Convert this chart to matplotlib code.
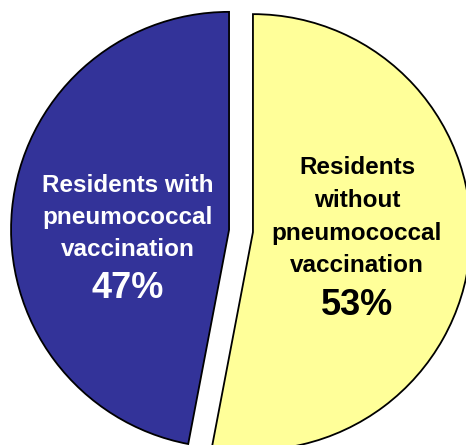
import matplotlib
matplotlib.use("Agg")
import matplotlib.pyplot as plt

categories = ["Residents without pneumococcal vaccination",
              "Residents with pneumococcal vaccination"]
values = [53, 47]
label_lines = [["Residents", "without", "pneumococcal", "vaccination"],
               ["Residents with", "pneumococcal", "vaccination"]]
pct_labels = ["53%", "47%"]
colors = ["#FFFF99", "#333399"]
text_colors = ["black", "white"]

W, H = 466, 445
fig = plt.figure(figsize=(W / 100, H / 100), dpi=100)
ax = fig.add_axes([0, 0, 1, 1])

# explode is in data units (pixels here)
ax.pie(values, colors=colors, startangle=90, counterclock=False,
       explode=[12, 12], radius=218, center=(241, H - 231),
       wedgeprops=dict(edgecolor="black", linewidth=1.3))
ax.set_xlim(0, W)
ax.set_ylim(0, H)
ax.set_aspect("equal")
ax.axis("off")

font = "Liberation Sans"
text_x = [357, 128]
line_baselines = [[174, 207, 240, 272], [192, 224, 256]]
pct_baseline = [315, 298]

for i in range(len(values)):
    for line, yb in zip(label_lines[i], line_baselines[i]):
        ax.text(text_x[i], H - yb, line, ha="center", va="baseline",
                fontsize=17.5, fontweight="bold", color=text_colors[i],
                family=font)
    ax.text(text_x[i], H - pct_baseline[i], pct_labels[i], ha="center",
            va="baseline", fontsize=26, fontweight="bold",
            color=text_colors[i], family=font)

fig.savefig("out.png", dpi=100)
